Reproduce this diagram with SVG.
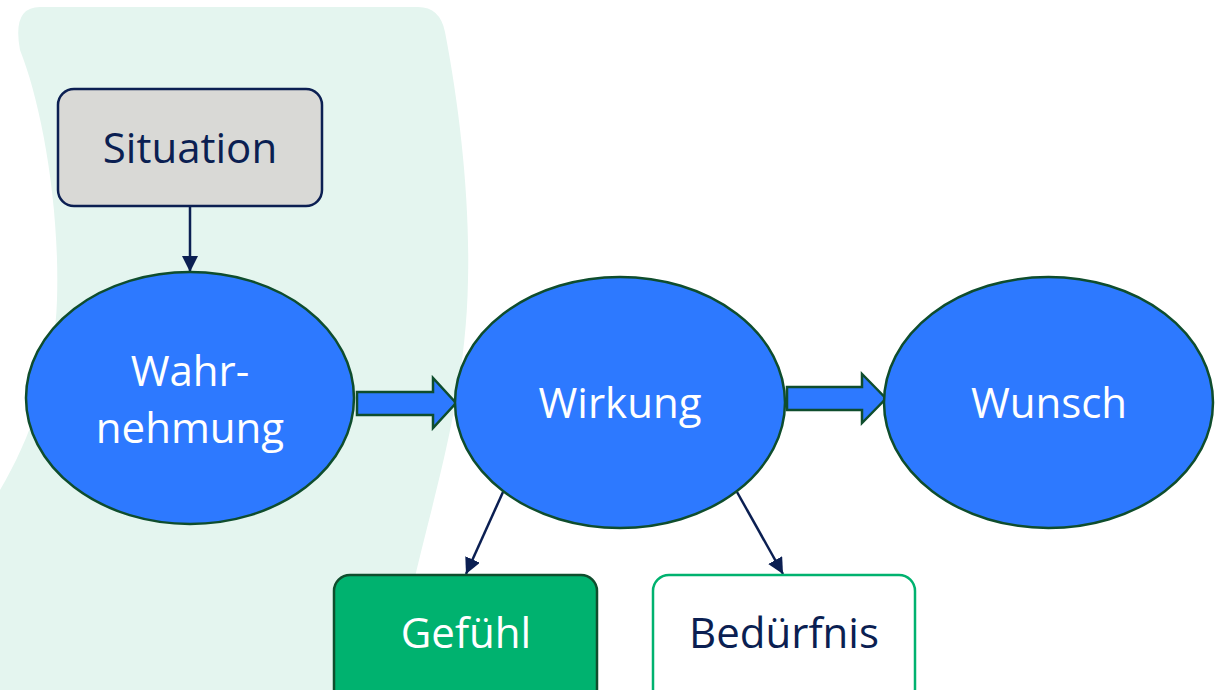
<svg xmlns="http://www.w3.org/2000/svg" width="1227" height="690" viewBox="0 0 1227 690">
<defs>
<style>
.t{font-family:"Open Sans","Noto Sans","Liberation Sans",sans-serif;font-size:42px;text-anchor:middle}
.w{fill:#FFFFFF}
.n{fill:#0B1F52}
.ell{fill:#2D79FF;stroke:#0F4D2D;stroke-width:2.5}
.blk{fill:#2D79FF;stroke:#0F4D2D;stroke-width:2.5;stroke-linejoin:miter}
.ln{stroke:#0B1F52;stroke-width:2.5;fill:none}
</style>
<marker id="ah2" viewBox="0 0 16 16" refX="16" refY="8" markerWidth="16" markerHeight="16" markerUnits="userSpaceOnUse" orient="auto">
<path d="M0,0 L16,8 L0,16 z" fill="#0B1F52"/>
</marker>
</defs>
<rect width="1227" height="690" fill="#FFFFFF"/>
<path id="band" d="M40,7 L418,7 Q440,7 445,32 C460,110 470,200 468,280 C466,400 432,500 412,590 L398,690 L0,690 L0,490 C30,440 55,370 57,300 C60,200 40,100 20,50 Q12,7 40,7 Z" fill="#E4F5EF"/>
<g id="connectors">
<line class="ln" x1="190" y1="207" x2="190" y2="272" marker-end="url(#ah2)"/>
<line class="ln" x1="503" y1="492" x2="466" y2="574" marker-end="url(#ah2)"/>
<line class="ln" x1="737" y1="492" x2="783" y2="574" marker-end="url(#ah2)"/>
<path class="blk" d="M357,392 L433,392 L433,378 L456,403 L433,428 L433,415 L357,415 Z"/>
<path class="blk" d="M787,387 L862,387 L862,374 L886,398.5 L862,423 L862,410 L787,410 Z"/>
</g>
<g id="situation">
<rect x="58" y="89" width="264" height="117" rx="16" fill="#D9D9D6" stroke="#0B1F52" stroke-width="2.5"/>
<text class="t n" x="190" y="163">Situation</text>
</g>
<g id="wahrnehmung">
<ellipse class="ell" cx="190" cy="398" rx="164" ry="126"/>
<text class="t w" x="190" y="386">Wahr-</text>
<text class="t w" x="190" y="443">nehmung</text>
</g>
<g id="wirkung">
<ellipse class="ell" cx="620" cy="402.5" rx="165" ry="125.5"/>
<text class="t w" x="620" y="418">Wirkung</text>
</g>
<g id="wunsch">
<ellipse class="ell" cx="1048.5" cy="402.5" rx="164.5" ry="125.5"/>
<text class="t w" x="1049" y="418">Wunsch</text>
</g>
<g id="gefuehl">
<rect x="334" y="575" width="263" height="130" rx="16" fill="#00B26F" stroke="#0F4D2D" stroke-width="2.5"/>
<text class="t w" x="466" y="648">Gefühl</text>
</g>
<g id="beduerfnis">
<rect x="653" y="575" width="262" height="130" rx="16" fill="#FFFFFF" stroke="#00B26F" stroke-width="2.5"/>
<text class="t n" x="784" y="648">Bedürfnis</text>
</g>
</svg>
